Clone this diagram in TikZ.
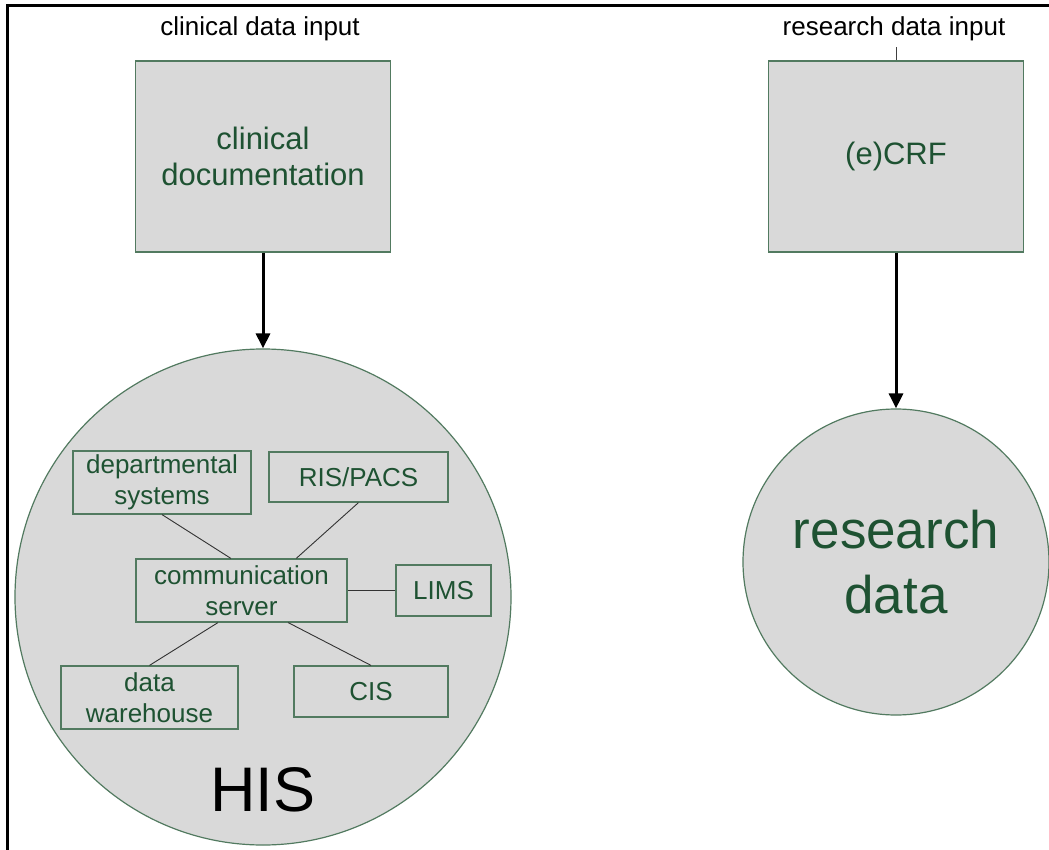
\documentclass[tikz,border=0pt]{standalone}
\usepackage{fontspec}
\setmainfont{Liberation Sans}
\usetikzlibrary{arrows.meta,calc}
\definecolor{txtgreen}{RGB}{30,82,50}
\definecolor{bdgreen}{RGB}{82,122,96}
\definecolor{boxgray}{RGB}{217,217,217}
\tikzset{
  bigbox/.style={draw=bdgreen, line width=1.4pt, fill=boxgray, rectangle, inner sep=0pt,
    align=center, text=txtgreen, font=\fontsize{31}{36}\selectfont},
  ibox/.style={draw=bdgreen, line width=1.2pt, rectangle, inner sep=0pt,
    align=center, text=txtgreen, font=\fontsize{26}{31}\selectfont},
  bigcirc/.style={draw=bdgreen, line width=1.2pt, fill=boxgray, circle, inner sep=0pt, align=center},
  toplabel/.style={font=\fontsize{26}{30}\selectfont, text=black, inner sep=0pt},
  flow/.style={line width=3pt, -{Triangle[length=15pt,width=14pt]}},
  link/.style={line width=0.9pt, draw=black!80},
}
\begin{document}
\begin{tikzpicture}[x=1pt,y=-1pt]
\useasboundingbox (0,0) rectangle (1049,850);
\fill[white] (0,0) rectangle (1049,850);
% frame
\draw[line width=3pt] (7,852) -- (7,6) -- (1051,6);

% top labels
\node[toplabel] (cinput) at (260,29) {clinical data input};
\node[toplabel] (rinput) at (894,29) {research data input};

% big boxes
\node[bigbox, minimum width=255pt, minimum height=191pt] (cdoc) at (263,156.5) {clinical\\documentation};
\node[bigbox, minimum width=255pt, minimum height=191pt] (ecrf) at (896,156.5) {(e)CRF};

\coordinate (tick) at (896,47);
\draw[line width=1pt, draw=black!75] (ecrf.north) -- (tick);

% circles
\node[bigcirc, minimum size=496pt] (his) at (263,597) {};
\node[bigcirc, minimum size=306pt, text=txtgreen, font=\fontsize{53}{65}\selectfont] (rd) at (896,562) {research\\data};

\draw[flow] (cdoc.south) -- (his.north);
\draw[flow] (ecrf.south) -- (rd.north);

% inner boxes
\node[ibox, minimum width=178pt, minimum height=63pt] (dept) at (162,482.5) {departmental\\systems};
\node[ibox, minimum width=179pt, minimum height=50pt] (ris) at (358.5,477) {RIS/PACS};
\node[ibox, minimum width=211pt, minimum height=63pt] (comm) at (241.5,590.5) {communication\\server};
\node[ibox, minimum width=95pt, minimum height=51pt] (lims) at (443.5,590.5) {LIMS};
\node[ibox, minimum width=177pt, minimum height=63pt] (dw) at (149.5,697.5) {data\\warehouse};
\node[ibox, minimum width=154pt, minimum height=51pt] (cis) at (371,691.5) {CIS};

\node[font=\fontsize{63}{70}\selectfont, text=black, inner sep=0pt] (hislabel) at (263,790) {HIS};

% links
\draw[link] (dept.south) -- ($(comm.north west)!0.45!(comm.north east)$);
\draw[link] (ris.south) -- ($(comm.north west)!0.758!(comm.north east)$);
\draw[link] (comm.east) -- (lims.west);
\draw[link] (dw.north) -- ($(comm.south west)!0.389!(comm.south east)$);
\draw[link] (cis.north) -- ($(comm.south west)!0.72!(comm.south east)$);
\end{tikzpicture}
\end{document}
